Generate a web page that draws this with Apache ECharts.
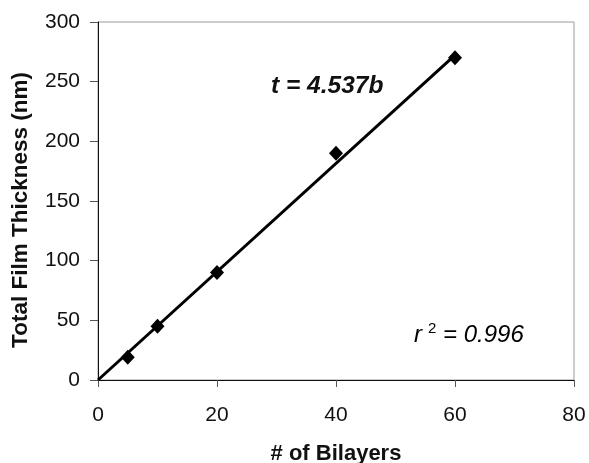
<!DOCTYPE html>
<html>
<head>
<meta charset="utf-8">
<script src="https://cdn.jsdelivr.net/npm/echarts@6/dist/echarts.min.js"></script>
<style>html,body{margin:0;padding:0;background:#fff;}#c{width:589px;height:463px;}</style>
</head>
<body>
<div id="c"></div>
<script>
const bilayers = [5, 10, 20, 40, 60];
const thickness = [19, 45, 90, 190, 270];
const fitSlope = 4.537;
const fitRange = [0, 60];
const xTicks = [0, 20, 40, 60, 80];
const yTicks = [0, 50, 100, 150, 200, 250, 300];
const fitLabel = 't = 4.537b';
const r2Label = '0.996';

const chart = echarts.init(document.getElementById('c'), null, {renderer: 'canvas'});
const FONT = '"Liberation Sans", Arial, sans-serif';
const ink = '#111';
chart.setOption({
  animation: false,
  backgroundColor: '#fff',
  textStyle: {fontFamily: FONT},
  grid: {left: 98, top: 22, right: 15, bottom: 83, show: true, borderColor: '#9a9a9a', borderWidth: 1,
         containLabel: false, outerBoundsMode: 'none'},
  xAxis: {
    type: 'value', min: xTicks[0], max: xTicks[xTicks.length-1], interval: 20,
    name: '# of Bilayers', nameLocation: 'middle', nameGap: 63,
    nameTextStyle: {fontFamily: FONT, fontSize: 22, fontWeight: 'bold', color: ink},
    axisLine: {show: true, lineStyle: {color: ink, width: 1}},
    axisTick: {show: true, length: 7, lineStyle: {color: '#555'}},
    axisLabel: {fontFamily: FONT, fontSize: 21, color: ink, margin: 25},
    splitLine: {show: false}
  },
  yAxis: {
    type: 'value', min: yTicks[0], max: yTicks[yTicks.length-1], interval: 50,
    name: 'Total Film Thickness (nm)', nameLocation: 'middle', nameGap: 66,
    nameTextStyle: {fontFamily: FONT, fontSize: 22.5, fontWeight: 'bold', color: ink, padding: [0, 18, 0, 0]},
    axisLine: {show: true, lineStyle: {color: ink, width: 1}},
    axisTick: {show: true, length: 8, lineStyle: {color: '#555'}},
    axisLabel: {fontFamily: FONT, fontSize: 21, color: ink, margin: 18},
    splitLine: {show: false}
  },
  series: [
    {
      type: 'line', data: fitRange.map(b => [b, fitSlope * b]),
      symbol: 'none', lineStyle: {color: '#000', width: 3}, z: 2
    },
    {
      type: 'scatter', data: bilayers.map((b, i) => [b, thickness[i]]),
      symbol: 'diamond', symbolSize: [14, 15], itemStyle: {color: '#000', opacity: 1}, z: 3
    }
  ],
  graphic: [
    {type: 'text', left: 271, top: 74, style: {text: fitLabel, font: 'italic bold 24.5px "Liberation Sans", Arial, sans-serif', fill: ink}},
    {type: 'text', left: 414, top: 321, style: {
      rich: {
        r: {fontFamily: FONT, fontStyle: 'italic', fontSize: 24, color: ink},
        s: {fontFamily: FONT, fontSize: 15, verticalAlign: 'top', color: ink, padding: [0,0,13,6]},
        v: {fontFamily: FONT, fontStyle: 'italic', fontSize: 24, color: ink}
      },
      text: '{r|r}{s|2}{v| = ' + r2Label + '}'
    }}
  ]
});
</script>
</body>
</html>
